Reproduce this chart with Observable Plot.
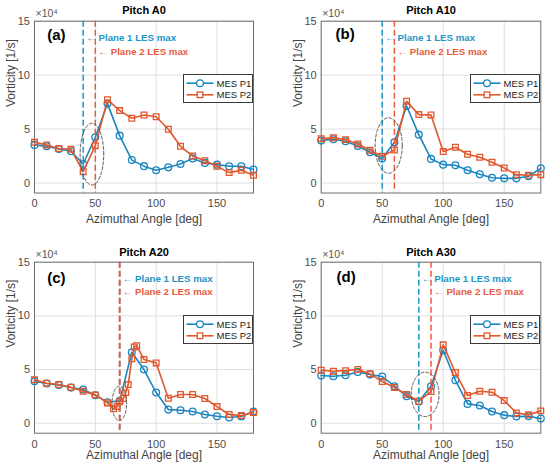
<!DOCTYPE html>
<html><head><meta charset="utf-8">
<script src="https://cdn.jsdelivr.net/npm/d3@7"></script>
<script src="https://cdn.jsdelivr.net/npm/@observablehq/plot@0.6"></script>
<style>
body{margin:0;background:#fff;}
#wrap{position:relative;width:550px;height:470px;font-family:"Liberation Sans",Arial,sans-serif;overflow:hidden;}
.panel{position:absolute;width:275px;height:235px;}
.legend{position:absolute;background:#fff;border:1px solid #3a3a3a;box-sizing:border-box;}
</style></head><body><div id="wrap"></div>
<script>
// ---- data ----
const angles = [0,10,20,30,40,50,60,70,80,90,100,110,120,130,140,150,160,170,180];
const xTicks = [0,50,100,150];
const yTicks = [0,5,10,15];
const seriesNames = ["MES P1","MES P2"];
const titles = ["Pitch A0","Pitch A10","Pitch A20","Pitch A30"];
const tags = ["(a)","(b)","(c)","(d)"];

const a0_p1 = [3.53,3.40,3.15,2.94,1.76,4.24,7.36,4.39,2.12,1.56,1.18,1.45,1.76,2.28,1.86,1.70,1.55,1.55,1.24];
const a0_p2 = [3.77,3.53,3.19,3.12,1.05,3.46,7.72,6.71,6.00,6.30,6.14,4.98,3.40,2.50,2.07,1.55,0.96,1.18,0.71];

const a10_p1 = [3.93,4.05,3.87,3.43,2.85,2.26,3.77,7.14,4.48,2.23,1.70,1.64,1.18,0.80,0.49,0.43,0.43,0.62,1.36];
const a10_p2 = [4.11,4.20,4.02,3.62,3.03,2.47,3.06,7.58,6.34,6.31,2.91,3.31,2.66,2.38,1.92,1.39,0.77,0.71,0.77];

const a20_p1_x = [0,10,20,30,40,50,60,70,80,90,100,110,120,130,140,150,160,170,180];
const a20_p1 = [3.91,3.70,3.57,3.32,3.14,2.61,1.96,2.08,6.61,5.00,2.86,1.27,1.21,1.09,0.81,0.65,0.53,0.62,1.09];
const a20_p2_x = [0,10,20,30,40,50,60,65,68,70,73,75,77,80,82,84,90,100,110,120,130,140,150,160,170,180];
const a20_p2 = [4.04,3.73,3.60,3.35,2.98,2.64,1.89,1.34,1.55,2.00,2.30,2.85,3.60,6.00,7.10,7.22,5.93,5.62,2.33,2.67,2.67,2.30,1.55,0.81,0.71,0.99];

const a30_p1 = [4.44,4.38,4.47,4.78,4.53,4.35,3.45,2.52,2.02,3.45,6.80,4.00,1.80,1.65,1.09,0.75,0.62,0.65,0.43];
const a30_p2 = [4.94,4.84,4.90,5.00,4.60,3.88,3.32,2.67,2.05,2.95,7.30,4.72,2.58,2.98,2.89,2.11,0.96,0.78,1.15];

// LES max angles (plane 1, plane 2)
const les1 = [40,50,70,80];
const les2 = [50,60,70,90];
// highlighted region ellipses: centre angle, centre vorticity, half-width, half-height
const ellipses = [
  {cx:47.2, cy:2.67, rx:9.7, ry:2.86},
  {cx:55.3, cy:3.47, rx:11.1, ry:2.57},
  {cx:69.7, cy:1.85, rx:6.0, ry:1.6},
  {cx:85.2, cy:2.69, rx:11.4, ry:2.07}
];

const panelsData = [
  {x1:angles, p1:a0_p1, x2:angles, p2:a0_p2},
  {x1:angles, p1:a10_p1, x2:angles, p2:a10_p2},
  {x1:a20_p1_x, p1:a20_p1, x2:a20_p2_x, p2:a20_p2},
  {x1:angles, p1:a30_p1, x2:angles, p2:a30_p2}
];

// ---- layout / style ----
const layout = [
  {left:0,   top:0,   ml:34,   mr:22,  mt:20.7, mb:42.5, xLab:25.8, titleDy:-10.7, tagDx:12.7, tagDy:13.6},
  {left:275, top:0,   ml:45.7, mr:9.7, mt:20.7, mb:42.5, xLab:25.8, titleDy:-10.7, tagDx:14.3, tagDy:12.6},
  {left:0,   top:235, ml:34,   mr:22,  mt:26.7, mb:37.3, xLab:22.3, titleDy:-9.7,  tagDx:12.7, tagDy:16},
  {left:275, top:235, ml:45.7, mr:9.7, mt:26.7, mb:37.3, xLab:22.3, titleDy:-9.7,  tagDx:15.3, tagDy:15}
];
const BLUE = "#1a86c0", RED = "#e2572b";
const BLUE_D = "#2196c8", RED_D = "#ea5a3c";
const FONT = '"Liberation Sans", Arial, sans-serif';

const wrap = document.getElementById("wrap");

panelsData.forEach((pd, i) => {
  const L = layout[i];
  const s1 = pd.x1.map((x, j) => ({x, y: pd.p1[j]}));
  const s2 = pd.x2.map((x, j) => ({x, y: pd.p2[j]}));
  const e = ellipses[i];
  const ell = d3.range(0, 2*Math.PI + 0.001, Math.PI/60).map(t => ({x: e.cx + e.rx*Math.cos(t), y: e.cy + e.ry*Math.sin(t)}));
  const ann = [
    {x: les1[i], y: 13.45, t: "\u2190 Plane 1 LES max", c: BLUE_D},
    {x: les2[i], y: 12.2,  t: "\u2190 Plane 2 LES max", c: RED_D}
  ];
  const sameLine = les1[i] === les2[i];
  const chart = Plot.plot({
    width: 275, height: 235,
    marginLeft: L.ml, marginRight: L.mr, marginTop: L.mt, marginBottom: L.mb,
    style: {fontFamily: FONT, background: "transparent", color: "#4d4d4d", overflow: "visible"},
    x: {domain: [0, 180]},
    y: {domain: [-0.93, 15]},
    marks: [
      Plot.gridX(xTicks, {stroke: "#e0e0e0", strokeOpacity: 1}),
      Plot.gridY(yTicks, {stroke: "#e0e0e0", strokeOpacity: 1}),
      Plot.axisX(xTicks, {tickSize: 0, tickPadding: 6.5, label: null, fontSize: 11}),
      Plot.axisY(yTicks, {tickSize: 0, tickPadding: 4.5, label: null, fontSize: 11}),
      Plot.frame({stroke: "#6e6e6e", strokeWidth: 1}),
      Plot.line(s1, {x: "x", y: "y", stroke: BLUE, strokeWidth: 1.6}),
      Plot.dot(s1, {x: "x", y: "y", stroke: BLUE, fill: "none", r: 3.4, strokeWidth: 1.3}),
      Plot.line(s2, {x: "x", y: "y", stroke: RED, strokeWidth: 1.6}),
      Plot.dot(s2, {x: "x", y: "y", stroke: RED, fill: "none", symbol: "square", r: 3.2, strokeWidth: 1.3}),
      Plot.ruleX([les1[i]], {stroke: BLUE_D, strokeWidth: 1.5, strokeDasharray: "6,3"}),
      Plot.ruleX([les2[i]], {stroke: RED_D, strokeWidth: sameLine ? 1.9 : 1.5, strokeDasharray: "6,3"}),
      Plot.line(ell, {x: "x", y: "y", stroke: "#555", strokeWidth: 1, strokeDasharray: "3,2"}),
      Plot.text(ann, {x: "x", y: "y", text: "t", fill: "c", dx: 3, textAnchor: "start", fontWeight: "bold", fontSize: 9.7}),
      Plot.text([titles[i]], {frameAnchor: "top", dy: L.titleDy, fontWeight: "bold", fontSize: 11, fill: "#000", lineAnchor: "middle"}),
      Plot.text(["\u00d710\u2074"], {frameAnchor: "top-left", dx: 1, dy: -7.5, textAnchor: "start", fontSize: 10.5, fill: "#555", lineAnchor: "middle"}),
      Plot.text([tags[i]], {frameAnchor: "top-left", dx: L.tagDx, dy: L.tagDy, textAnchor: "start", fontWeight: "bold", fontSize: 15, fill: "#000", lineAnchor: "middle"}),
      Plot.text(["Azimuthal Angle [deg]"], {frameAnchor: "bottom", dy: L.xLab, fontSize: 12, fill: "#444", lineAnchor: "middle"}),
      Plot.text(["Vorticity [1/s]"], {frameAnchor: "left", dx: -23.5, rotate: -90, fontSize: 12, fill: "#444", lineAnchor: "middle"})
    ]
  });
  const div = document.createElement("div");
  div.className = "panel";
  div.style.left = L.left + "px";
  div.style.top = L.top + "px";
  div.appendChild(chart);

  // legend box
  const lg = document.createElement("div");
  lg.className = "legend";
  const lw = 70.5, lh = 28.5;
  const frameRight = 275 - L.mr;
  lg.style.left = (frameRight - lw) + "px";
  lg.style.top = (L.mt + 53.5) + "px";
  lg.style.width = lw + "px";
  lg.style.height = lh + "px";
  const ns = "http://www.w3.org/2000/svg";
  const sv = document.createElementNS(ns, "svg");
  sv.setAttribute("width", lw - 2); sv.setAttribute("height", lh - 2);
  sv.style.position = "absolute"; sv.style.left = "0"; sv.style.top = "0";
  seriesNames.forEach((nm, k) => {
    const yy = k === 0 ? 8.2 : 19.8;
    const col = k === 0 ? BLUE : RED;
    const ln = document.createElementNS(ns, "line");
    ln.setAttribute("x1", 2.5); ln.setAttribute("x2", 29.5); ln.setAttribute("y1", yy); ln.setAttribute("y2", yy);
    ln.setAttribute("stroke", col); ln.setAttribute("stroke-width", 1.6);
    sv.appendChild(ln);
    if (k === 0) {
      const c = document.createElementNS(ns, "circle");
      c.setAttribute("cx", 16); c.setAttribute("cy", yy); c.setAttribute("r", 3.4);
      c.setAttribute("fill", "#fff"); c.setAttribute("stroke", col); c.setAttribute("stroke-width", 1.3);
      sv.appendChild(c);
    } else {
      const r = document.createElementNS(ns, "rect");
      r.setAttribute("x", 16 - 2.8); r.setAttribute("y", yy - 2.8); r.setAttribute("width", 5.6); r.setAttribute("height", 5.6);
      r.setAttribute("fill", "#fff"); r.setAttribute("stroke", col); r.setAttribute("stroke-width", 1.3);
      sv.appendChild(r);
    }
    const tx = document.createElementNS(ns, "text");
    tx.setAttribute("x", 32.5); tx.setAttribute("y", yy + 3.4);
    tx.setAttribute("font-size", 9.5); tx.setAttribute("fill", "#222");
    tx.setAttribute("font-family", FONT);
    tx.textContent = nm;
    sv.appendChild(tx);
  });
  lg.appendChild(sv);
  div.appendChild(lg);
  wrap.appendChild(div);
});
</script>
</body></html>
